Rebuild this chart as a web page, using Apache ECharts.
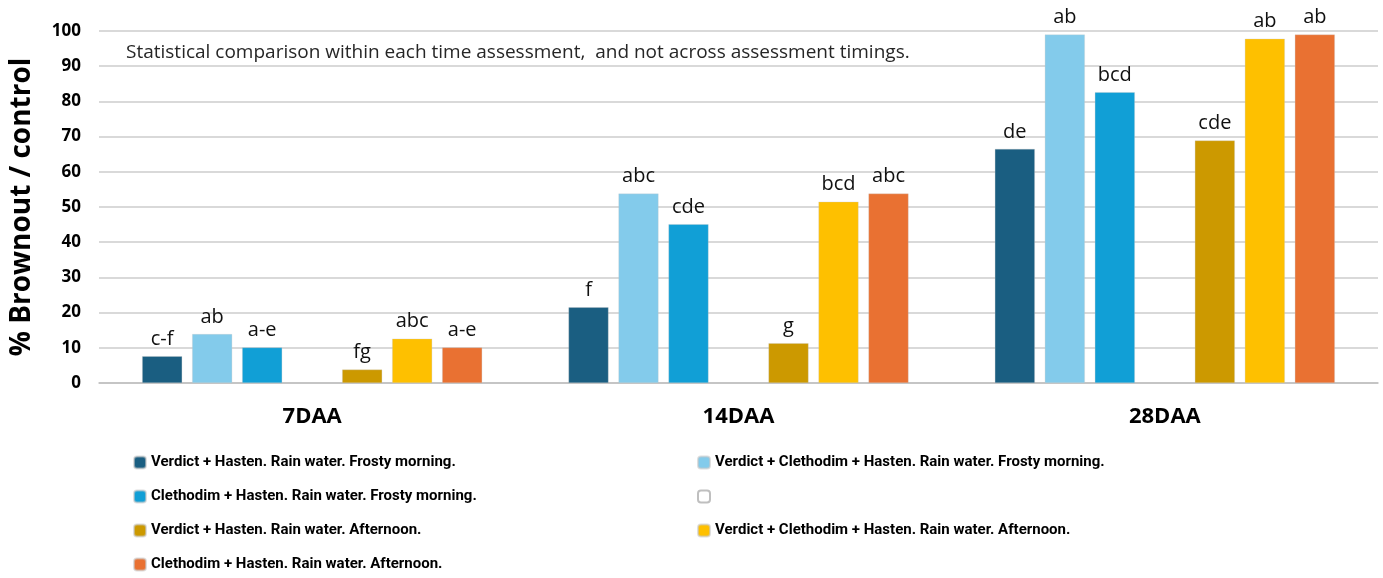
<!DOCTYPE html>
<html>
<head>
<meta charset="utf-8">
<script src="https://cdn.jsdelivr.net/npm/echarts@6/dist/echarts.min.js"></script>
<style>
  html, body { margin: 0; padding: 0; background: #fff; }
  #chart { width: 1383px; height: 578px; }
</style>
</head>
<body>
<div id="chart"></div>
<script>
// assessment timings
const timings = ['7DAA', '14DAA', '28DAA'];

// treatment names (the blank one is a spacer series, as in the original)
const seriesNames = [
  'Verdict + Hasten. Rain water. Frosty morning.',
  'Verdict + Clethodim + Hasten. Rain water. Frosty morning.',
  'Clethodim + Hasten. Rain water. Frosty morning.',
  ' ',
  'Verdict + Hasten. Rain water. Afternoon.',
  'Verdict + Clethodim + Hasten. Rain water. Afternoon.',
  'Clethodim + Hasten. Rain water. Afternoon.'
];
const seriesColors = ['#1a5e81', '#83cbeb', '#119fd6', '#ffffff', '#cc9900', '#fec000', '#e97132'];

// % brownout / control, one array per treatment
const vhFrost  = [7.6, 21.5, 66.5];
const vchFrost = [13.9, 53.8, 99.0];
const chFrost  = [10.1, 45.1, 82.6];
const blank    = [null, null, null];
const vhAft    = [3.8, 11.3, 68.9];
const vchAft   = [12.6, 51.5, 97.8];
const chAft    = [10.1, 53.8, 99.0];

// significance letters
const lettersVhFrost  = ['c-f', 'f', 'de'];
const lettersVchFrost = ['ab', 'abc', 'ab'];
const lettersChFrost  = ['a-e', 'cde', 'bcd'];
const lettersVhAft    = ['fg', 'g', 'cde'];
const lettersVchAft   = ['abc', 'bcd', 'ab'];
const lettersChAft    = ['a-e', 'abc', 'ab'];

const yTicks = { min: 0, max: 100, interval: 10 };

const values = [vhFrost, vchFrost, chFrost, blank, vhAft, vchAft, chAft];
const letters = [lettersVhFrost, lettersVchFrost, lettersChFrost, null, lettersVhAft, lettersVchAft, lettersChAft];

const chart = echarts.init(document.getElementById('chart'));

const series = values.map((vals, i) => ({
  name: seriesNames[i],
  type: 'bar',
  data: vals,
  barWidth: 40,
  barGap: '25%',
  itemStyle: i === 3
    ? { color: '#ffffff', borderColor: '#bfbfbf', borderWidth: 1 }
    : { color: seriesColors[i], borderColor: 'rgba(200,200,200,0.6)', borderWidth: 0.5 },
  label: letters[i] ? {
    show: true,
    position: 'top',
    distance: 7,
    fontFamily: 'Open Sans',
    fontSize: 20,
    color: '#111',
    formatter: p => letters[i][p.dataIndex]
  } : { show: false }
}));

const legendText = { fontFamily: 'Roboto', fontWeight: 'bold', fontSize: 15, color: '#000' };

chart.setOption({
  animation: false,
  backgroundColor: '#ffffff',
  grid: { left: 99, right: 5, top: 31, bottom: 195 },
  xAxis: {
    type: 'category',
    data: timings,
    axisTick: { show: false },
    axisLine: { lineStyle: { color: '#bfbfbf', width: 1.5 } },
    axisLabel: {
      margin: 23,
      fontFamily: 'Open Sans',
      fontWeight: 'bold',
      fontSize: 22,
      color: '#000'
    }
  },
  yAxis: {
    type: 'value',
    min: yTicks.min,
    max: yTicks.max,
    interval: yTicks.interval,
    name: '% Brownout / control',
    nameLocation: 'middle',
    nameGap: 63,
    nameTextStyle: { fontFamily: 'Open Sans', fontWeight: 'bold', fontSize: 28, color: '#000' },
    axisLine: { show: false },
    axisTick: { show: false },
    axisLabel: { margin: 18, fontFamily: 'Open Sans', fontWeight: 'bold', fontSize: 17, color: '#000' },
    splitLine: { lineStyle: { color: '#cccccc', width: 1.5 } }
  },
  legend: [
    {
      orient: 'vertical',
      left: 128,
      top: 450,
      itemWidth: 12,
      itemHeight: 12,
      itemGap: 19,
      data: [seriesNames[0], seriesNames[2], seriesNames[4], seriesNames[6]],
      textStyle: legendText
    },
    {
      orient: 'vertical',
      left: 692,
      top: 450,
      itemWidth: 12,
      itemHeight: 12,
      itemGap: 19,
      data: [seriesNames[1], seriesNames[3], seriesNames[5]],
      textStyle: legendText
    }
  ],
  graphic: [{
    type: 'text',
    left: 126,
    top: 43,
    style: {
      text: 'Statistical comparison within each time assessment,  and not across assessment timings.',
      font: '19px "Open Sans"',
      fill: '#262626'
    }
  }],
  series: series
});
</script>
</body>
</html>
